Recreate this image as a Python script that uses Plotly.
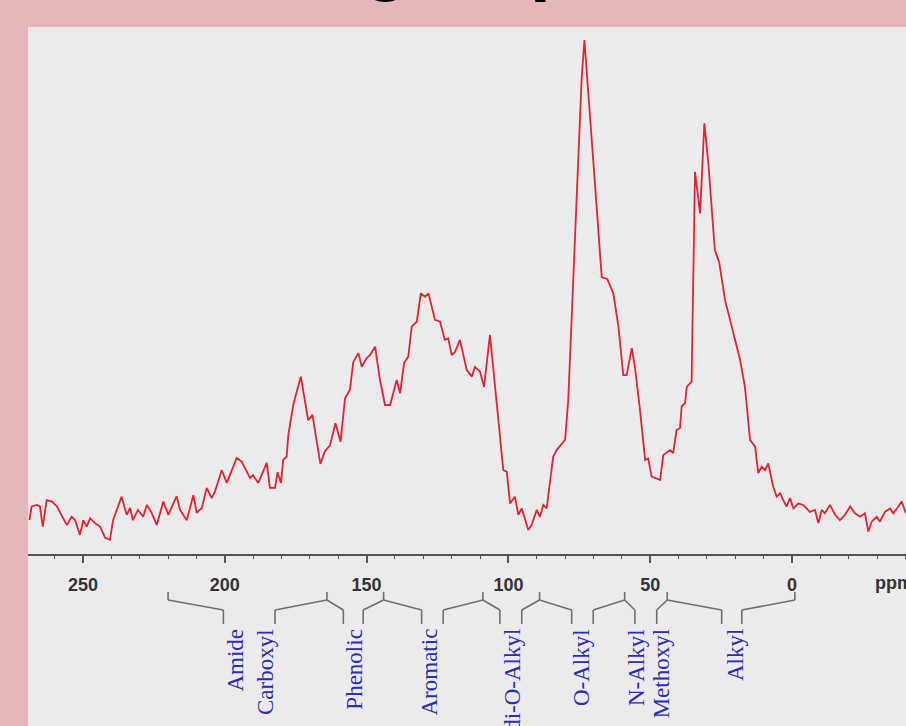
import plotly.graph_objects as go

# 13C NMR spectrum: chemical shift (ppm) and relative intensity
ppm = [
    268.9, 268.1, 266.3, 265.2, 264.2, 262.8, 261.0, 259.3, 255.7, 254.0, 252.8, 251.1, 249.9, 248.7, 247.5, 245.8, 244.0, 242.2, 240.5, 239.4,
    236.4, 234.6, 233.4, 232.4, 230.6, 228.8, 227.5, 225.8, 224.0, 221.7, 219.9, 217.0, 215.8, 213.4, 211.1, 209.9, 208.1, 206.4, 204.6, 203.5,
    201.1, 199.3, 195.8, 194.0, 191.1, 190.1, 188.2, 185.2, 184.1, 182.3, 181.4, 180.2, 179.4, 178.2, 177.6, 175.8, 173.2, 170.6, 169.1, 166.3,
    164.7, 162.9, 161.0, 159.2, 157.6, 155.9, 154.7, 152.9, 151.7, 150.0, 148.8, 147.0, 145.3, 143.5, 141.7, 140.6, 139.4, 138.2, 136.8, 135.3,
    134.1, 132.3, 130.9, 129.4, 128.2, 125.9, 124.1, 122.4, 121.2, 120.0, 118.8, 117.1, 114.7, 112.9, 111.8, 110.0, 108.6, 106.5, 104.1, 101.8,
    100.6, 99.4, 97.7, 96.5, 95.3, 93.0, 91.8, 90.0, 88.9, 87.7, 86.5, 85.9, 84.2, 83.0, 80.0, 78.9, 77.7, 75.9, 74.2, 73.2,
    71.2, 69.5, 67.1, 65.1, 63.0, 61.2, 59.5, 58.3, 56.5, 55.4, 53.6, 51.8, 50.7, 49.5, 46.5, 45.4, 43.0, 41.9, 40.7, 39.5,
    38.9, 37.7, 37.1, 35.4,
    34.2, 32.4, 30.9, 29.5, 27.2, 25.7, 23.6, 21.3, 18.3, 16.6, 14.8, 13.0, 11.9, 10.7, 9.5,
    8.4, 6.6, 5.4, 4.2, 3.1, 1.9, 0.7, -0.5, -2.2, -4.0, -6.3, -8.1, -9.3, -10.5, -11.6, -13.4, -15.2, -16.9, -18.7, -20.5,
    -22.2, -24.0, -25.7, -26.9, -28.1, -29.9, -31.0, -32.8, -34.6, -35.7, -37.5, -38.7, -40.2,
]
intensity = [
    2.0, 4.8, 5.1, 4.8, 0.7, 6.1, 5.8, 4.9, 1.0, 2.7, 2.0, -1.0, 2.0, 0.7, 2.4, 1.4, 0.7, -1.6, -2.0, 2.0,
    6.8, 3.1, 4.5, 2.0, 4.1, 2.7, 5.1, 3.5, 1.0, 5.8, 3.1, 6.9, 4.1, 2.0, 7.1, 3.5, 4.5, 8.6, 6.5, 7.8,
    12.2, 9.6, 14.7, 13.9, 10.6, 11.2, 9.6, 13.7, 8.6, 8.6, 11.8, 9.6, 14.3, 15.0, 19.4, 25.7, 31.3, 22.4, 23.5, 13.5,
    16.1, 17.3, 21.8, 18.0, 26.9, 28.6, 34.3, 36.1, 33.3, 35.1, 35.7, 37.4, 30.6, 25.5, 25.5, 27.9, 30.6, 27.9, 34.0, 35.4,
    41.5, 42.5, 48.3, 47.6, 48.3, 42.9, 42.5, 38.8, 39.1, 35.7, 36.4, 38.8, 32.7, 31.3, 33.3, 32.3, 29.2, 39.8, 25.2, 12.2,
    11.9, 5.4, 6.8, 3.1, 4.4, 0.0, 1.0, 4.1, 2.7, 5.1, 4.4, 7.5, 15.0, 16.3, 18.4, 26.5, 42.9, 68.0, 91.8, 100.0,
    85.1, 70.8, 51.6, 51.2, 48.3, 41.5, 31.6, 31.6, 37.1, 33.3, 24.5, 14.3, 14.6, 10.9, 10.2, 15.3, 16.3, 15.7, 20.4, 20.8,
    25.2, 25.9, 29.2, 30.3,
    73.1, 64.6, 83.0, 74.8, 57.1, 54.7, 46.9, 41.8, 34.7, 29.2, 18.4, 17.0, 11.6, 12.9, 12.2,
    13.6, 8.8, 6.8, 7.5, 6.1, 4.8, 6.5, 4.4, 5.4, 5.1, 3.7, 4.1, 1.4, 4.1, 3.4, 5.1, 3.1, 2.0, 3.1, 4.8,
    3.4, 2.7, 3.4, -0.3, 1.7, 2.7, 1.7, 3.7, 4.4, 3.4, 4.8, 5.8, 3.4,
]
assert len(ppm) == len(intensity)

tick_vals = [250, 200, 150, 100, 50, 0]
tick_text = ["250", "200", "150", "100", "50", "0"]

# Chemical-shift region boundaries (ppm) and the pair of bracket legs for each region
region_bounds = [220, 164, 144, 109, 89, 59, 44, -1]
region_legs = [(200.5, 182.3), (158.2, 151.2), (130.6, 123.0), (103.0, 95.3),
               (77.7, 70.1), (55.4, 47.7), (24.8, 17.7)]

group_names = ["Amide", "Carboxyl", "Phenolic", "Aromatic", "di-O-Alkyl",
               "O-Alkyl", "N-Alkyl", "Methoxyl", "Alkyl"]
group_ppm = [196.4, 185.8, 154.4, 128.0, 98.8, 74.2, 54.8, 45.9, 20.1]

W, H = 906, 726
M_L, M_T = 28, 27
PLOT_H = H - M_T


def py(pix):
    """Pixel row (from top of page) to paper fraction."""
    return (H - pix) / PLOT_H


def px(pix):
    return (pix - M_L) / (W - M_L)


RED = "rgb(226,36,46)"
AXIS = "#555555"
BRACKET = "#6e6e6e"
BLUE = "#2c2cb4"

fig = go.Figure()
fig.add_trace(go.Scatter(
    x=ppm, y=intensity, mode="lines",
    line=dict(color=RED, width=1.8),
    hoverinfo="skip", showlegend=False,
))

# Region brackets under the axis
shapes = []
tip, join, shoulder, foot = py(592), py(600), py(610), py(624)
line_style = dict(color=BRACKET, width=1.6)
for j, b in enumerate(region_bounds):
    shapes.append(dict(type="line", xref="x", yref="paper",
                       x0=b, x1=b, y0=tip, y1=join, line=line_style))
    if j > 0:
        leg = region_legs[j - 1][1]
        shapes.append(dict(type="line", xref="x", yref="paper",
                           x0=b, x1=leg, y0=join, y1=shoulder, line=line_style))
        shapes.append(dict(type="line", xref="x", yref="paper",
                           x0=leg, x1=leg, y0=shoulder, y1=foot, line=line_style))
    if j < len(region_legs):
        leg = region_legs[j][0]
        shapes.append(dict(type="line", xref="x", yref="paper",
                           x0=b, x1=leg, y0=join, y1=shoulder, line=line_style))
        shapes.append(dict(type="line", xref="x", yref="paper",
                           x0=leg, x1=leg, y0=shoulder, y1=foot, line=line_style))

annotations = []
for name, x in zip(group_names, group_ppm):
    annotations.append(dict(
        x=x, xref="x", y=py(627), yref="paper",
        text=name, textangle=-90, showarrow=False,
        xanchor="center", yanchor="top",
        font=dict(family="Liberation Serif", size=23, color=BLUE),
    ))

annotations.append(dict(
    x=-28.6, xref="x", y=py(583), yref="paper", text="ppm",
    showarrow=False, xanchor="left", yanchor="middle",
    font=dict(family="Liberation Sans", size=18, color="#333333", weight="bold"),
))

# Slide heading above the panel
annotations.append(dict(
    x=px(78), xref="paper", y=py(5), yref="paper", text="Carbon groups",
    showarrow=False, xanchor="left", yanchor="bottom",
    font=dict(family="Liberation Sans", size=75, color="#000000", weight="bold"),
))

fig.update_layout(
    width=W, height=H,
    margin=dict(l=M_L, r=0, t=M_T, b=0, pad=0),
    paper_bgcolor="#e6b6ba",
    plot_bgcolor="#edeaee",
    showlegend=False,
    shapes=shapes,
    annotations=annotations,
    xaxis=dict(
        range=[269.4, -40.2],
        anchor="free", position=py(555), side="bottom",
        showgrid=False, zeroline=False,
        showline=True, linecolor=AXIS, linewidth=1.6,
        tickmode="array", tickvals=tick_vals, ticktext=tick_text,
        ticks="outside", ticklen=7, tickwidth=1.5, tickcolor=AXIS,
        ticklabelstandoff=7,
        tickfont=dict(family="Liberation Sans", size=18, color="#333333", weight="bold"),
        minor=dict(tickmode="linear", tick0=0, dtick=10, ticks="outside",
                   ticklen=3, tickwidth=1.2, tickcolor=AXIS),
    ),
    yaxis=dict(
        range=[-40.0, 102.65], visible=False, showgrid=False, zeroline=False,
    ),
)

fig.write_html("out.html")
